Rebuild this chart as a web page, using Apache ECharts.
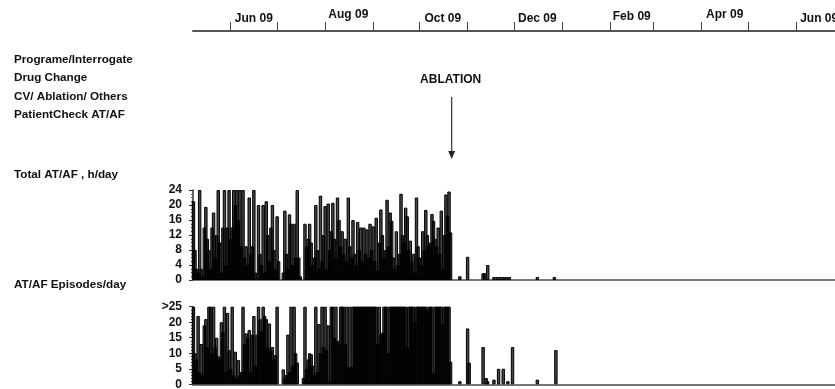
<!DOCTYPE html>
<html><head><meta charset="utf-8">
<script src="https://cdn.jsdelivr.net/npm/echarts@6/dist/echarts.min.js"></script>
<style>html,body{margin:0;padding:0;background:#fff}#c{width:835px;height:389px}</style>
</head><body><div id="c"></div><script>
const FONT = '"Liberation Sans", Arial, sans-serif';
// Day numbers counted from 1 Jun 2009
const monthStartDays = [0,30,61,92,122,153,183,214,245,273,304,334,365];
const monthLabelDays = [15,76,137,198,259,319,380];
const monthLabels = ['Jun 09','Aug 09','Oct 09','Dec 09','Feb 09','Apr 09','Jun 09'];
const rowLabels = ['Programe/Interrogate','Drug Change','CV/ Ablation/ Others','PatientCheck AT/AF'];
const panelLabels = ['Total AT/AF , h/day','AT/AF Episodes/day'];
const ablationDay = 142.7;
const ablationText = 'ABLATION';
const firstDay = -24;
// Total AT/AF hours per day, one value per day from firstDay
const hoursPre = [
 21,8,3,2,24,3,1,14,19.5,11,
 8,3,14,18,6,12,24,10,2,14,
 24,4,14,24,11,14,24,20,24,16,
 24,9,24,6,9,4,22,7,9,24,
 2,0,20,7,4,20,2,21,12,5,
 14,20,8,3,17,5,0,0,2,18.5,
 7,3,17.5,15,4,15,6,24,6,1,
 0,0,15,9,11,15,10,4,6,20,
 8,3,22.5,5,12,19.7,3,20.4,8,13,
 20.6,11,6,22,16,9,13,7,11,5,
 22,9,6,16,7,4,15.5,8,14,5,
 14,7,13.5,6,15,8,14.3,5,16.6,2.6,
 10,18.8,12,6,8,21.4,9,18,15.8,6,
 3,13,4,7,23,12,10,19.3,17,8,
 10.5,5,7,2,22,9,6,4,13,8,
 18.7,12,9,10,17.6,15.8,11,9,14,7,
 18.5,3,12,22.8,17,23.6,12.7
];
// AT/AF episodes per day (25 = >25), one value per day from firstDay
const episodesPre = [
 25,10,8,22,4,13,3,19,21,12,
 25,25,10,25,12,15,9,8,20,17,
 25,4,23,11,5,25,3,10.5,2,7.8,
 3,4,25,13,16.4,15,17.5,4,16,22,
 6,16,25,21,17,25,22,21,12,19.6,
 11,12,8,9.4,25,0,0,0,4.8,2,
 3,16,4,25,6,25,10,7,0,0,
 0,2,25,5,8,10,9.7,6,3,25,
 4,19.4,10,25,12,25,11,19,1,25,
 25,15,25,14,13,25,25,25,13,25,
 5.6,25,5.6,25,25,25,25,25,25,25,
 25,25,25,25,25,25,25,25,25,13,
 25,16,16.6,25,25,25,10,25,25,25,
 25,25,25,25,25,25,25,25,12,25,
 25,25,25,20,25,25,25,25,25,25,
 25,24,25,25,25,3.6,25,25,25,25,
 25,19.6,25,25,25,25,7.3
];
// After ablation: sparse days
const hoursPostDays = [148,153,163,164,166,170,172,174,176,178,180,198,209];
const hoursPost     = [1,6.2,1.8,1.8,4,0.8,0.8,0.8,0.8,0.8,0.8,0.8,0.8];
const episodesPostDays = [148,153,154,163,165,166,170,173,176,179,182,198,210];
const episodesPost     = [1,18,7,12,2,1,1.5,5,5,1,12,1.5,11];

const X_MIN = -24.3, X_MAX = 390.2;

function buildSeries(pre, postDays, post){
  const out = [];
  pre.forEach((v,i)=>{ if(v>0) out.push([firstDay+i, v]); });
  postDays.forEach((d,i)=>{ if(post[i]>0) out.push([d, post[i]]); });
  return out;
}

const chart = echarts.init(document.getElementById('c'), null, {renderer:'canvas'});
const txt = {color:'#111', fontFamily:FONT, fontWeight:'bold'};
const barStyle = {color:'rgba(0,0,0,0.72)', borderColor:'#000', borderWidth:1};

const option = {
  animation:false,
  backgroundColor:'#fff',
  grid:[
    {left:193, right:0, top:31, height:1, outerBoundsMode:'none', containLabel:false},
    {left:193, right:0, top:190, height:90, outerBoundsMode:'none', containLabel:false},
    {left:193, right:0, top:306.7, height:77.6, outerBoundsMode:'none', containLabel:false}
  ],
  xAxis:[
    {type:'value', gridIndex:0, position:'top', min:X_MIN, max:X_MAX,
     axisLine:{show:true, onZero:false, lineStyle:{color:'#555', width:2}},
     axisTick:{show:true, customValues:monthStartDays, length:9, lineStyle:{color:'#444', width:1}},
     axisLabel:{show:true, customValues:monthLabelDays, margin:6, fontSize:12, ...txt,
       formatter:(v)=>{
         const i = monthLabelDays.indexOf(v);
         const s = i>=0 ? monthLabels[i] : '';
         if (i===1 || i===5) return '{h|'+s+'}';
         if (i===4) return '{m|'+s+'}';
         return '{n|'+s+'}';
       },
       rich:{
         n:{fontSize:12, ...txt},
         m:{fontSize:12, ...txt, padding:[0,0,2,0]},
         h:{fontSize:12, ...txt, padding:[0,0,4,0]}
       }},
     splitLine:{show:false}},
    {type:'value', gridIndex:1, min:X_MIN, max:X_MAX,
     axisLine:{show:true, lineStyle:{color:'#777', width:2}},
     axisTick:{show:false}, axisLabel:{show:false}, splitLine:{show:false}},
    {type:'value', gridIndex:2, min:X_MIN, max:X_MAX,
     axisLine:{show:true, lineStyle:{color:'#777', width:2}},
     axisTick:{show:false}, axisLabel:{show:false}, splitLine:{show:false}}
  ],
  yAxis:[
    {type:'value', gridIndex:0, show:false, min:0, max:1},
    {type:'value', gridIndex:1, min:0, max:24, interval:4,
     axisLine:{show:true, onZero:false, lineStyle:{color:'#333', width:1.5}},
     axisTick:{show:true, length:4, lineStyle:{color:'#333'}},
     minorTick:{show:true, splitNumber:4, length:2, lineStyle:{color:'#555'}},
     axisLabel:{margin:11, fontSize:12, ...txt},
     splitLine:{show:false}, minorSplitLine:{show:false}},
    {type:'value', gridIndex:2, min:0, max:25, interval:5,
     axisLine:{show:true, onZero:false, lineStyle:{color:'#333', width:1.5}},
     axisTick:{show:true, length:4, lineStyle:{color:'#333'}},
     minorTick:{show:true, splitNumber:5, length:2, lineStyle:{color:'#555'}},
     axisLabel:{margin:11, fontSize:12, ...txt, formatter:(v)=> v===25 ? '>25' : String(v)},
     splitLine:{show:false}, minorSplitLine:{show:false}}
  ],
  series:[
    {type:'bar', xAxisIndex:1, yAxisIndex:1, barWidth:3.4, data:buildSeries(hoursPre, hoursPostDays, hoursPost),
     itemStyle:barStyle, emphasis:{disabled:true}, silent:true},
    {type:'bar', xAxisIndex:2, yAxisIndex:2, barWidth:3.4, data:buildSeries(episodesPre, episodesPostDays, episodesPost),
     itemStyle:barStyle, emphasis:{disabled:true}, silent:true}
  ]
};
chart.setOption(option);

const ax = chart.convertToPixel({xAxisIndex:1}, ablationDay);
const rowY = [60,78,97,115];
const graphics = [];
const labelFont = 'bold 11.7px '+FONT;
rowLabels.forEach((t,i)=>graphics.push({type:'text', x:14, y:rowY[i],
  style:{text:t, fill:'#111', font:labelFont, verticalAlign:'middle', align:'left'}}));
const panelY = [175,285];
panelLabels.forEach((t,i)=>graphics.push({type:'text', x:14, y:panelY[i],
  style:{text:t, fill:'#111', font:labelFont, verticalAlign:'middle', align:'left'}}));
graphics.push({type:'text', x:ax-1, y:80, style:{text:ablationText, fill:'#111', font:'bold 12px '+FONT, align:'center', verticalAlign:'middle'}});
graphics.push({type:'line', shape:{x1:ax, y1:97, x2:ax, y2:152}, style:{stroke:'#333', lineWidth:1.2}});
graphics.push({type:'polygon', shape:{points:[[ax-3.5,151],[ax+3.5,151],[ax,159]]}, style:{fill:'#222'}});
chart.setOption({graphic:graphics});
</script></body></html>
